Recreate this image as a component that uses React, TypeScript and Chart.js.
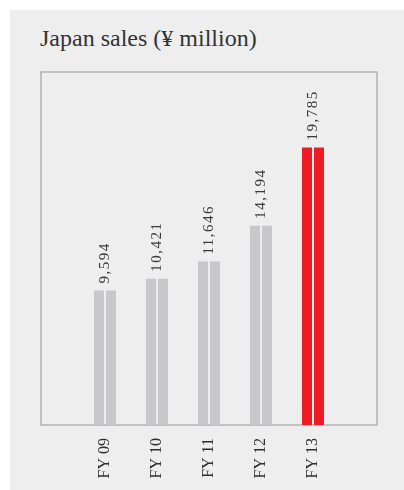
import React, { useEffect, useRef } from "react";
import { Chart, registerables } from "chart.js";

Chart.register(...registerables);

// Fiscal years and Japan sales in ¥ million
const categories: string[] = ["FY 09", "FY 10", "FY 11", "FY 12", "FY 13"];
const sales: number[] = [9594, 10421, 11646, 14194, 19785];
const barColors: string[] = ["#c8c8ca", "#c8c8ca", "#c8c8ca", "#c8c8ca", "#ed1c24"];
const yMax = 25160;

const SERIF = "'Liberation Serif', 'DejaVu Serif', serif";

const formatValue = (v: number) => v.toLocaleString("en-US");

// Frame around the plot, wider than the category band
const framePlugin = {
  id: "frame",
  beforeDatasetsDraw(chart: any) {
    const { ctx, chartArea } = chart;
    ctx.save();
    ctx.strokeStyle = "#b3b3b3";
    ctx.lineWidth = 1.5;
    ctx.strokeRect(chartArea.left - 38, chartArea.top, chartArea.right - chartArea.left + 76, chartArea.bottom - chartArea.top);
    ctx.restore();
  },
};

// Rotated value labels above each pair of bars
const valueLabelPlugin = {
  id: "valueLabels",
  afterDatasetsDraw(chart: any) {
    const { ctx } = chart;
    const a = chart.getDatasetMeta(0).data;
    const b = chart.getDatasetMeta(1).data;
    ctx.save();
    ctx.font = `15px ${SERIF}`;
    ctx.fillStyle = "#3a3a3a";
    (ctx as any).letterSpacing = "1.5px";
    ctx.textAlign = "left";
    ctx.textBaseline = "middle";
    sales.forEach((v, i) => {
      const cx = (a[i].x + b[i].x) / 2;
      const top = Math.min(a[i].y, b[i].y);
      ctx.save();
      ctx.translate(cx, top - 7);
      ctx.rotate(-Math.PI / 2);
      ctx.fillText(formatValue(v), 0, 0);
      ctx.restore();
    });
    ctx.restore();
  },
};

export default function App() {
  const canvasRef = useRef<HTMLCanvasElement | null>(null);

  useEffect(() => {
    if (!canvasRef.current) return;
    const pair = {
      backgroundColor: barColors,
      borderWidth: 0,
      categoryPercentage: 0.4615,
      barPercentage: 0.8333,
    };
    const chart = new Chart(canvasRef.current, {
      type: "bar",
      data: {
        labels: categories,
        datasets: [
          { label: "Japan sales", data: sales, ...pair },
          { label: "Japan sales ", data: sales, ...pair },
        ],
      },
      options: {
        responsive: false,
        animation: false,
        devicePixelRatio: 1,
        layout: { padding: { left: 79, right: 65, top: 72, bottom: 0 } },
        plugins: {
          legend: { display: false },
          tooltip: { enabled: false },
          title: { display: false },
        },
        scales: {
          x: {
            grid: { display: false },
            border: { display: false },
            ticks: {
              maxRotation: 90,
              minRotation: 90,
              padding: 5,
              color: "#2e2e2e",
              font: { family: SERIF, size: 16 },
            },
            afterFit(scale: any) {
              scale.height = 65;
            },
          },
          y: {
            display: false,
            min: 0,
            max: yMax,
          },
        },
      },
      plugins: [framePlugin, valueLabelPlugin],
    });
    return () => chart.destroy();
  }, []);

  return (
    <div style={{ position: "absolute", left: 0, top: 0, width: 404, height: 490 }}>
      <div style={{ position: "absolute", left: 10, top: 10, width: 394, height: 480, background: "#eeeeee" }} />
      <div
        style={{
          position: "absolute",
          left: 40,
          top: 26,
          fontFamily: SERIF,
          fontSize: 24,
          lineHeight: "24px",
          color: "#333333",
          whiteSpace: "nowrap",
        }}
      >
        Japan sales (¥ million)
      </div>
      <canvas
        ref={canvasRef}
        width={404}
        height={490}
        style={{ position: "absolute", left: 0, top: 0, width: 404, height: 490 }}
      />
    </div>
  );
}
